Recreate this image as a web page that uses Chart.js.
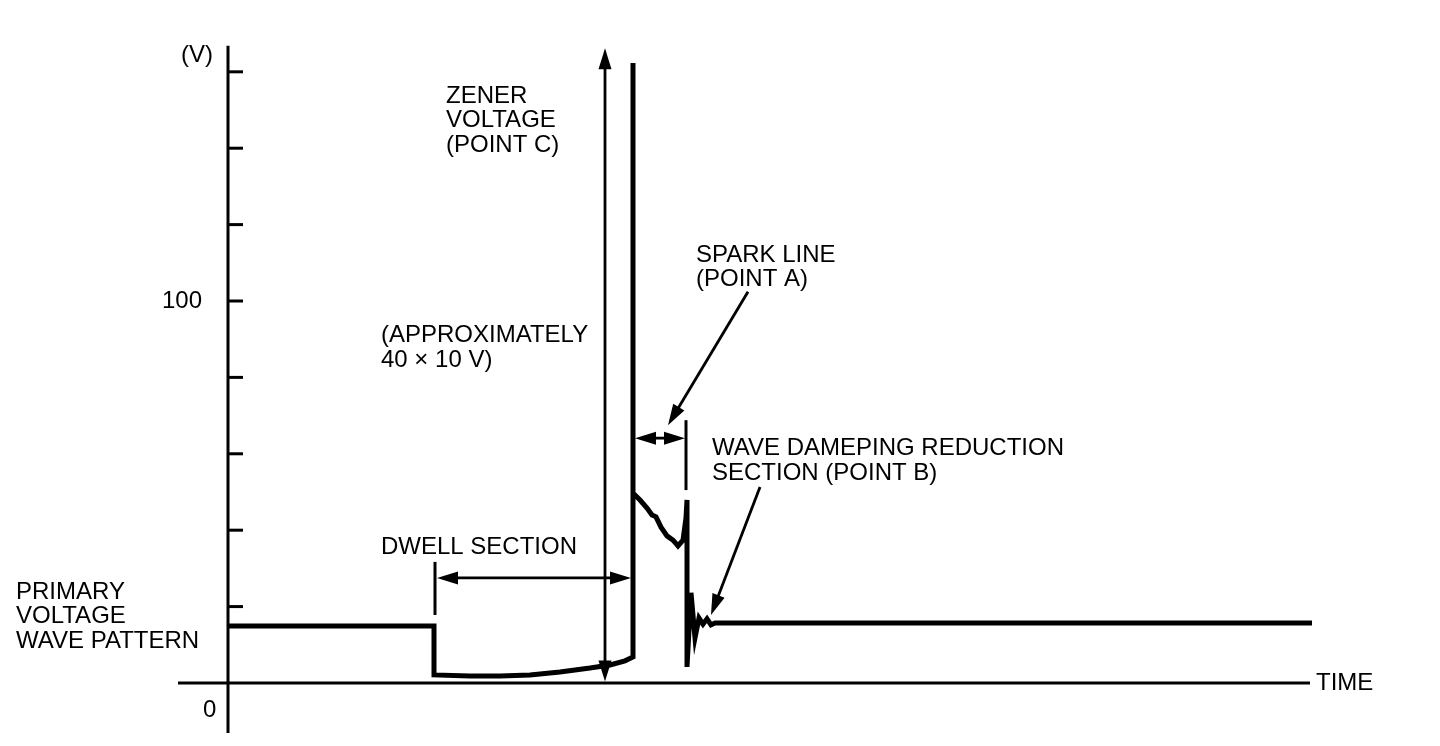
<!DOCTYPE html>
<html>
<head>
<meta charset="utf-8">
<script src="https://cdn.jsdelivr.net/npm/chart.js@4"></script>
<style>
  html, body { margin: 0; padding: 0; background: #fff; }
  #wrap { width: 1440px; height: 746px; }
</style>
</head>
<body>
<div id="wrap"><canvas id="c" width="1440" height="746"></canvas></div>
<script>
// ---- Data (time in arbitrary units, voltage in V) ----
const waveTime = [0, 20.6, 20.6, 24.2, 27.2, 30.2, 33.2, 36.2, 38.2, 39.7, 40.5, 40.5, 40.5, 40.7, 41.2, 41.9, 42.4, 42.8, 43.3, 43.9, 44.5, 45.0, 45.5, 45.8, 45.9, 45.9, 46.3, 46.7, 47.1, 47.5, 47.9, 48.3, 48.7, 108.4];
const waveVolt = [14.9, 14.9, 2.1, 1.8, 1.8, 2.1, 2.9, 3.9, 4.7, 5.8, 6.8, 162.3, 49.7, 49.2, 47.9, 45.8, 44.0, 43.5, 40.8, 38.5, 37.4, 35.9, 37.4, 43.2, 47.9, 4.2, 23.6, 11.8, 17.0, 15.4, 16.8, 15.2, 15.7, 15.7];
const yTickValues = [20, 40, 60, 80, 100, 120, 140, 160];
const yTickLabels = { 0: '0', 100: '100' };
const yAxisTitle = '(V)';
const xAxisTitle = 'TIME';

// ---- Annotations (data coordinates) ----
const markerLines = [
  { t: 20.7, v0: 17.8, v1: 31.7 },   // dwell start marker
  { t: 45.8, v0: 50.5, v1: 68.8 }    // spark end marker
];
const dimArrows = [
  { t0: 37.7, v0: 0.4, t1: 37.7, v1: 166.2, both: true },  // zener
  { t0: 20.9, v0: 27.5, t1: 40.3, v1: 27.5, both: true },  // dwell
  { t0: 40.7, v0: 64.1, t1: 45.7, v1: 64.1, both: true },  // spark
  { t0: 52.0, v0: 102.4, t1: 44.0, v1: 67.5, both: false }, // spark pointer
  { t0: 53.2, v0: 51.3, t1: 48.3, v1: 17.8, both: false }   // point B pointer
];
const labels = [
  { t: 21.8, v: 153.7, lines: ['ZENER', 'VOLTAGE', '(POINT C)'] },
  { t: 15.3, v: 90.9, lines: ['(APPROXIMATELY', '40 \u00d7 10 V)'] },
  { t: 46.8, v: 112.0, lines: ['SPARK LINE', '(POINT A)'] },
  { t: 48.4, v: 61.4, lines: ['WAVE DAMEPING REDUCTION', 'SECTION (POINT B)'] },
  { t: 15.3, v: 35.6, lines: ['DWELL SECTION'] },
  { t: -21.2, v: 23.8, lines: ['PRIMARY', 'VOLTAGE', 'WAVE PATTERN'] }
];

const FONT = '24px "Liberation Sans", Arial, sans-serif';
const LINE_H = 24.5;

function arrowHead(ctx, x, y, ang, len, hw) {
  ctx.beginPath();
  ctx.moveTo(x, y);
  ctx.lineTo(x - len * Math.cos(ang) + hw * Math.sin(ang), y - len * Math.sin(ang) - hw * Math.cos(ang));
  ctx.lineTo(x - len * Math.cos(ang) - hw * Math.sin(ang), y - len * Math.sin(ang) + hw * Math.cos(ang));
  ctx.closePath();
  ctx.fill();
}

const drawPlugin = {
  id: 'diagram',
  beforeDatasetsDraw(chart) {
    const ctx = chart.ctx, xs = chart.scales.x, ys = chart.scales.y;
    const X = v => xs.getPixelForValue(v), Y = v => ys.getPixelForValue(v);
    ctx.save();
    ctx.strokeStyle = '#000'; ctx.fillStyle = '#000';
    ctx.lineWidth = 3; ctx.lineCap = 'butt';
    ctx.beginPath(); ctx.moveTo(X(0), Y(166.8)); ctx.lineTo(X(0), Y(-13.1)); ctx.stroke();
    ctx.beginPath(); ctx.moveTo(X(-5.0), Y(0)); ctx.lineTo(X(108.2), Y(0)); ctx.stroke();
    yTickValues.forEach(v => {
      ctx.beginPath(); ctx.moveTo(X(0), Y(v)); ctx.lineTo(X(1.5), Y(v)); ctx.stroke();
    });
    ctx.font = FONT; ctx.textBaseline = 'middle';
    Object.keys(yTickLabels).forEach(k => {
      const v = Number(k);
      if (v === 0) { ctx.textAlign = 'left'; ctx.fillText(yTickLabels[k], X(-2.5), Y(-7.1)); }
      else { ctx.textAlign = 'right'; ctx.fillText(yTickLabels[k], X(-2.6), Y(v)); }
    });
    ctx.textAlign = 'left';
    ctx.fillText(yAxisTitle, X(-4.7), Y(164.4));
    ctx.fillText(xAxisTitle, X(108.8), Y(0));
    ctx.restore();
  },
  afterDatasetsDraw(chart) {
    const ctx = chart.ctx, xs = chart.scales.x, ys = chart.scales.y;
    const X = v => xs.getPixelForValue(v), Y = v => ys.getPixelForValue(v);
    ctx.save();
    ctx.strokeStyle = '#000'; ctx.fillStyle = '#000';
    ctx.lineWidth = 3;
    markerLines.forEach(m => {
      ctx.beginPath(); ctx.moveTo(X(m.t), Y(m.v0)); ctx.lineTo(X(m.t), Y(m.v1)); ctx.stroke();
    });
    ctx.lineWidth = 2.8;
    dimArrows.forEach(a => {
      const x0 = X(a.t0), y0 = Y(a.v0), x1 = X(a.t1), y1 = Y(a.v1);
      const ang = Math.atan2(y1 - y0, x1 - x0);
      const len = Math.hypot(x1 - x0, y1 - y0);
      const hl = Math.min(21, len / 2.3);
      ctx.beginPath();
      ctx.moveTo(x0 + (a.both ? Math.cos(ang) * hl * 0.8 : 0), y0 + (a.both ? Math.sin(ang) * hl * 0.8 : 0));
      ctx.lineTo(x1 - Math.cos(ang) * hl * 0.8, y1 - Math.sin(ang) * hl * 0.8);
      ctx.stroke();
      arrowHead(ctx, x1, y1, ang, hl, 6.5);
      if (a.both) arrowHead(ctx, x0, y0, ang + Math.PI, hl, 6.5);
    });
    ctx.font = FONT; ctx.textBaseline = 'middle'; ctx.textAlign = 'left';
    labels.forEach(l => {
      l.lines.forEach((s, i) => ctx.fillText(s, X(l.t), Y(l.v) + i * LINE_H));
    });
    ctx.restore();
  }
};

new Chart(document.getElementById('c'), {
  type: 'line',
  data: {
    datasets: [{
      data: waveTime.map((t, i) => ({ x: t, y: waveVolt[i] })),
      borderColor: '#000',
      borderWidth: 5,
      pointRadius: 0,
      tension: 0,
      fill: false,
      borderJoinStyle: 'miter',
      borderCapStyle: 'butt'
    }]
  },
  options: {
    responsive: false,
    animation: false,
    layout: { padding: 0 },
    plugins: { legend: { display: false }, tooltip: { enabled: false } },
    scales: {
      x: { type: 'linear', min: -22.8, max: 121.2, display: false },
      y: { type: 'linear', min: -16.5, max: 178.8, display: false }
    }
  },
  plugins: [drawPlugin]
});
</script>
</body>
</html>
